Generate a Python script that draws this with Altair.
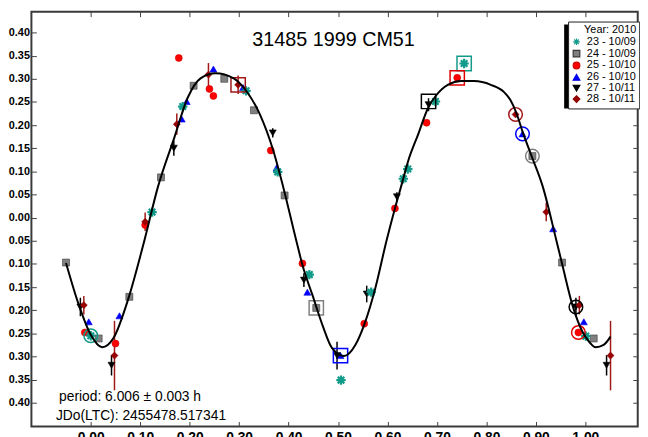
import altair as alt
import pandas as pd

# ---------------- data ----------------
series_names = ["23 - 10/09", "24 - 10/09", "25 - 10/10", "26 - 10/10", "27 - 10/11", "28 - 10/11"]

curve_phase = [-0.050, -0.024, 0.000, 0.023, 0.046, 0.076, 0.109, 0.136, 0.169, 0.196, 0.222, 0.252,
               0.289, 0.315, 0.342, 0.369, 0.389, 0.415, 0.4285, 0.4485, 0.4685, 0.488, 0.512, 0.535,
               0.555, 0.575, 0.598, 0.615, 0.629, 0.642, 0.662, 0.682, 0.699, 0.722, 0.749, 0.775,
               0.809, 0.835, 0.848, 0.861, 0.874, 0.891, 0.914, 0.941, 0.954, 0.974, 0.994, 1.007,
               1.021, 1.037, 1.051]
curve_mag = [-0.098, -0.189, -0.253, -0.280, -0.260, -0.175, -0.047, 0.067, 0.173, 0.259, 0.301, 0.312,
             0.301, 0.273, 0.223, 0.145, 0.067, -0.047, -0.104, -0.168, -0.232, -0.282, -0.299, -0.275,
             -0.225, -0.154, -0.050, 0.020, 0.073, 0.123, 0.180, 0.237, 0.265, 0.287, 0.295, 0.295,
             0.287, 0.272, 0.255, 0.225, 0.183, 0.134, 0.067, -0.047, -0.104, -0.189, -0.246, -0.267,
             -0.280, -0.275, -0.257]

s23_phase = [0.000, 0.124, 0.186, 0.314, 0.378, 0.442, 0.506, 0.567, 0.632, 0.641, 0.697, 0.755, 1.001]
s23_mag = [-0.255, 0.012, 0.240, 0.274, 0.099, -0.123, -0.351, -0.161, 0.084, 0.105, 0.251, 0.333, -0.256]

s24_phase = [-0.050, 0.016, 0.078, 0.142, 0.208, 0.270, 0.330, 0.392, 0.456, 0.893, 0.953, 1.017]
s24_mag = [-0.097, -0.261, -0.171, 0.087, 0.285, 0.300, 0.232, 0.048, -0.195, 0.133, -0.097, -0.261]

s25_phase = [-0.012, 0.050, 0.110, 0.178, 0.240, 0.248, 0.364, 0.428, 0.553, 0.615, 0.679, 0.741, 0.986]
s25_mag = [-0.248, -0.272, -0.016, 0.345, 0.278, 0.263, 0.145, -0.099, -0.229, 0.020, 0.205, 0.302, -0.248]

s26_phase = [-0.004, 0.058, 0.184, 0.194, 0.248, 0.308, 0.376, 0.438, 0.505, 0.873, 0.935, 0.997]
s26_mag = [-0.225, -0.212, 0.213, 0.251, 0.321, 0.281, 0.108, -0.161, -0.298, 0.181, -0.024, -0.225]

s27_phase = [-0.021, 0.042, 0.168, 0.368, 0.431, 0.498, 0.558, 0.619, 0.683, 0.981, 1.043]
s27_mag = [-0.193, -0.319, 0.150, 0.183, -0.135, -0.298, -0.165, 0.045, 0.244, -0.193, -0.319]
s27_err = [0.020, 0.022, 0.016, 0.010, 0.015, 0.030, 0.018, 0.010, 0.014, 0.020, 0.022]

s28_phase = [-0.014, 0.048, 0.110, 0.174, 0.238, 0.298, 0.859, 0.921, 0.988, 1.051]
s28_mag = [-0.189, -0.298, -0.009, 0.202, 0.309, 0.287, 0.223, 0.012, -0.189, -0.298]
s28_err = [0.020, 0.075, 0.020, 0.023, 0.025, 0.020, 0.000, 0.020, 0.020, 0.075]

# session start markers (open rings around a point)
ring_series = ["23 - 10/09", "23 - 10/09", "24 - 10/09", "24 - 10/09", "25 - 10/10", "25 - 10/10",
               "26 - 10/10", "26 - 10/10", "27 - 10/11", "27 - 10/11", "28 - 10/11", "28 - 10/11"]
ring_phase = [0.000, 0.755, 0.456, 0.893, 0.741, 0.986, 0.505, 0.873, 0.683, 0.981, 0.298, 0.859]
ring_mag = [-0.255, 0.333, -0.195, 0.133, 0.302, -0.248, -0.298, 0.181, 0.251, -0.193, 0.287, 0.223]
ring_kind = ["circle", "square", "square", "circle", "square", "circle",
             "square", "circle", "square", "circle", "square", "circle"]

x_ticks = [0.0, 0.1, 0.2, 0.3, 0.4, 0.5, 0.6, 0.7, 0.8, 0.9, 1.0]
y_ticks = [-0.40, -0.35, -0.30, -0.25, -0.20, -0.15, -0.10, -0.05, 0.0,
           0.05, 0.10, 0.15, 0.20, 0.25, 0.30, 0.35, 0.40]

title_text = "31485 1999 CM51"
period_text = "period: 6.006 \u00b1 0.003 h"
jd_text = "JDo(LTC): 2455478.517341"
legend_title = "Year: 2010"

# ---------------- styles ----------------
fills = ["#129a8a", "#808080", "#ff0000", "#0000ff", "#000000", "#990000"]
strokes = ["#129a8a", "#3a3a3a", "#d00000", "#0000e0", "#000000", "#8b0000"]
line_cols = {"23 - 10/09": "#129a8a", "24 - 10/09": "#808080", "25 - 10/10": "#e00000",
             "26 - 10/10": "#0000ff", "27 - 10/11": "#000000", "28 - 10/11": "#a01818"}
asterisk = "M-1,0L1,0M0,-1L0,1M-0.7,-0.7L0.7,0.7M-0.7,0.7L0.7,-0.7"
shapes = [asterisk, "square", "circle", "triangle-up", "triangle-down", "diamond"]
FONT = "Liberation Sans"

# ---------------- tables ----------------
curve_df = pd.DataFrame({"phase": curve_phase, "mag": curve_mag})

rows = []
for name, ph, mg in zip(series_names,
                        [s23_phase, s24_phase, s25_phase, s26_phase, s27_phase, s28_phase],
                        [s23_mag, s24_mag, s25_mag, s26_mag, s27_mag, s28_mag]):
    for p, m in zip(ph, mg):
        rows.append({"series": name, "phase": p, "mag": m})
pts_df = pd.DataFrame(rows)

err_rows = []
for name, ph, mg, er in [(series_names[4], s27_phase, s27_mag, s27_err),
                         (series_names[5], s28_phase, s28_mag, s28_err)]:
    for p, m, e in zip(ph, mg, er):
        if e > 0:
            err_rows.append({"phase": p, "lo": m - e, "hi": m + e, "col": line_cols[name]})
err_df = pd.DataFrame(err_rows)

ring_df = pd.DataFrame({"phase": ring_phase, "mag": ring_mag, "kind": ring_kind,
                        "col": [line_cols[s] for s in ring_series]})

sx = alt.Scale(domain=[-0.12, 1.106], nice=False, zero=False)
sy = alt.Scale(domain=[-0.451, 0.445], nice=False, zero=False)

ax_common = dict(offset=-5, tickSize=5, tickColor="#404040", tickWidth=1, domain=False, grid=False, title=None)
x_bottom = alt.Axis(orient="bottom", values=x_ticks, format=".2f", labelPadding=4, labelFont=FONT,
                    labelFontSize=14, labelFontWeight="bold", labelColor="black", labelBaseline="top", **ax_common)
y_left = alt.Axis(orient="left", values=y_ticks, labelExpr="format(abs(datum.value), '.2f')",
                  labelPadding=2, labelFont=FONT, labelFontSize=11, labelFontWeight="bold",
                  labelColor="black", **ax_common)
x_top = alt.Axis(orient="top", values=x_ticks, labels=False, **ax_common)
y_right = alt.Axis(orient="right", values=y_ticks, labels=False, **ax_common)

X = lambda axis=None: alt.X("phase:Q", scale=sx, axis=axis)
Y = lambda axis=None: alt.Y("mag:Q", scale=sy, axis=axis)

leg = alt.Legend(title=legend_title, orient="none", legendX=543.5, legendY=10, padding=3,
                 strokeColor="#202020", fillColor="white", titleFont=FONT,
                 titleFontSize=11, titleFontWeight="normal", titleColor="black", titleAnchor="end",
                 titlePadding=1, labelFont=FONT, labelFontSize=11, labelColor="black",
                 symbolSize=45, symbolStrokeWidth=1.2, rowPadding=-2, labelOffset=5, cornerRadius=0,
                 zindex=2)

axes_layer = alt.Chart(curve_df).mark_point(opacity=0).encode(x=X(x_top), y=Y(y_right))

shadow = alt.Chart(pd.DataFrame({"a": [0]})).mark_rect(color="black").encode(
    x=alt.value(539.5), x2=alt.value(610.3), y=alt.value(13), y2=alt.value(98))

err_layer = alt.Chart(err_df).mark_rule(strokeWidth=1.5).encode(
    x=X(), y=alt.Y("lo:Q", scale=sy, axis=None), y2="hi:Q", color=alt.Color("col:N", scale=None))

pts_layer = alt.Chart(pts_df).mark_point(filled=True, opacity=1, size=50, strokeWidth=0.6).encode(
    x=X(), y=Y(),
    fill=alt.Fill("series:N", scale=alt.Scale(domain=series_names, range=fills), legend=leg),
    stroke=alt.Stroke("series:N", scale=alt.Scale(domain=series_names, range=strokes), legend=leg),
    shape=alt.Shape("series:N", scale=alt.Scale(domain=series_names, range=shapes), legend=leg),
)

# thicker asterisks for the first session
star_layer = alt.Chart(pts_df).transform_filter(alt.datum.series == series_names[0]).mark_point(
    shape=asterisk, filled=False, size=90, strokeWidth=2.2, color=fills[0], opacity=1).encode(x=X(), y=Y())

ring_sq = alt.Chart(ring_df).transform_filter(alt.datum.kind == "square").mark_point(
    shape="square", filled=False, size=210, strokeWidth=1.5, opacity=1).encode(
    x=X(), y=Y(), color=alt.Color("col:N", scale=None))
ring_ci = alt.Chart(ring_df).transform_filter(alt.datum.kind == "circle").mark_point(
    shape="circle", filled=False, size=190, strokeWidth=1.5, opacity=1).encode(
    x=X(), y=Y(), color=alt.Color("col:N", scale=None))

curve_layer = alt.Chart(curve_df).mark_line(color="black", strokeWidth=2, interpolate="monotone").encode(
    x=X(x_bottom), y=Y(y_left))

txt = pd.DataFrame({"t": [title_text, period_text, jd_text]})
title_layer = alt.Chart(txt).transform_filter(alt.datum.t == title_text).mark_text(
    font=FONT, fontSize=20, align="center", baseline="alphabetic", color="black").encode(
    text="t:N", x=alt.value(306), y=alt.value(34.5))
period_layer = alt.Chart(txt).transform_filter(alt.datum.t == period_text).mark_text(
    font=FONT, fontSize=14, align="left", baseline="alphabetic", color="black").encode(
    text="t:N", x=alt.value(28), y=alt.value(394))
jd_layer = alt.Chart(txt).transform_filter(alt.datum.t == jd_text).mark_text(
    font=FONT, fontSize=14, align="left", baseline="alphabetic", color="black").encode(
    text="t:N", x=alt.value(24.8), y=alt.value(413))

chart = alt.layer(
    axes_layer, shadow, err_layer, pts_layer, star_layer, ring_sq, ring_ci, curve_layer,
    title_layer, period_layer, jd_layer
).resolve_axis(x="independent", y="independent").properties(
    width=614, height=420,
    autosize=alt.AutoSizeParams(type="none"),
    padding={"left": 23.7, "top": 1, "right": 2.3, "bottom": 8},
    background="white",
).configure_view(stroke="#3a3a3a", strokeWidth=2)

chart.save("out.html", embed_options={"renderer": "svg", "actions": False})
